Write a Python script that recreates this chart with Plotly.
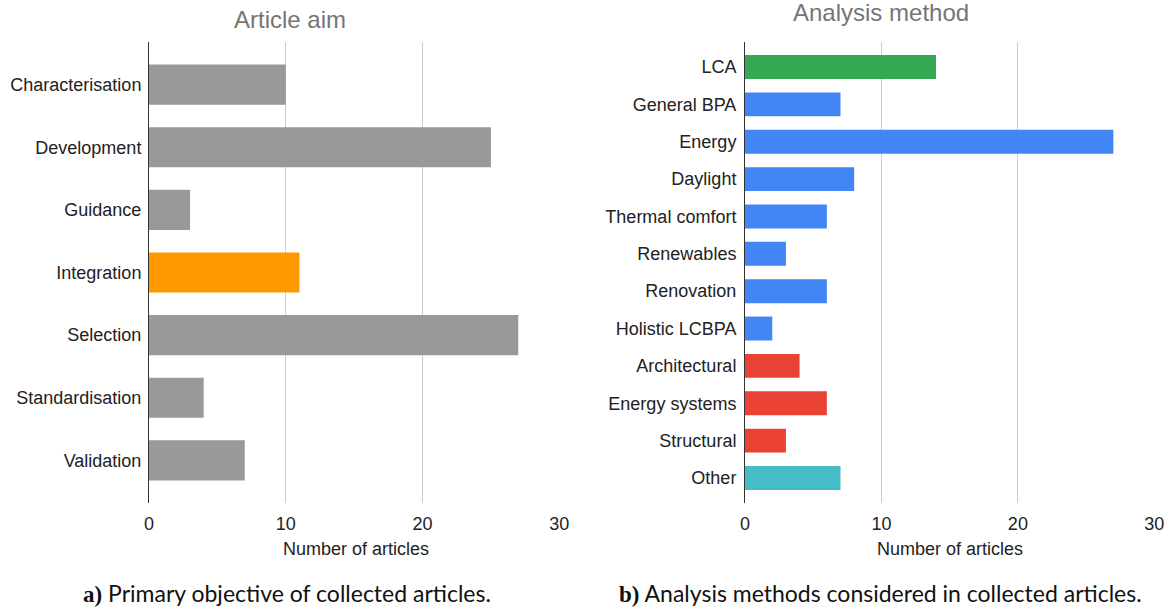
import plotly.graph_objects as go

W, H = 1169, 609

aim_labels = ["Characterisation", "Development", "Guidance", "Integration",
              "Selection", "Standardisation", "Validation"]
aim_values = [10, 25, 3, 11, 27, 4, 7]
aim_colors = ["#999999", "#999999", "#999999", "#ff9900", "#999999", "#999999", "#999999"]

method_labels = ["LCA", "General BPA", "Energy", "Daylight", "Thermal comfort",
                 "Renewables", "Renovation", "Holistic LCBPA", "Architectural",
                 "Energy systems", "Structural", "Other"]
method_values = [14, 7, 27, 8, 6, 3, 6, 2, 4, 6, 3, 7]
method_colors = ["#34a853"] + ["#4285f4"] * 7 + ["#ea4335"] * 3 + ["#46bdc6"]

x_ticks = [0, 10, 20, 30]

def px_x(p):
    return p / W

def px_y(p):
    return 1 - p / H

fig = go.Figure()
fig.add_trace(go.Bar(y=aim_labels, x=aim_values, orientation="h",
                     marker=dict(color=aim_colors, line=dict(width=0)),
                     width=0.64, xaxis="x", yaxis="y", showlegend=False, hoverinfo="skip"))
fig.add_trace(go.Bar(y=method_labels, x=method_values, orientation="h",
                     marker=dict(color=method_colors, line=dict(width=0)),
                     width=0.64, xaxis="x2", yaxis="y2", showlegend=False, hoverinfo="skip"))

FONT = "Liberation Sans, Arial, sans-serif"
tickfont = dict(family=FONT, size=18, color="#222222")
ydom = [px_y(503), px_y(42)]

fig.update_layout(
    width=W, height=H,
    margin=dict(l=0, r=0, t=0, b=0, autoexpand=False),
    plot_bgcolor="white", paper_bgcolor="white",
    xaxis=dict(domain=[px_x(149), px_x(560)], range=[0, 30.05], tickvals=x_ticks,
               showgrid=True, gridcolor="#cccccc", gridwidth=1, zeroline=False,
               tickfont=tickfont, ticklabelstandoff=8, anchor="y", automargin=False),
    yaxis=dict(domain=ydom, range=[6.68, -0.68], type="category",
               categoryorder="array", categoryarray=aim_labels,
               showline=True, linecolor="#333333", linewidth=1,
               showgrid=False, tickfont=tickfont, ticklabelstandoff=3, anchor="x",
               automargin=False),
    xaxis2=dict(domain=[px_x(745), px_x(1155)], range=[0, 30.05], tickvals=x_ticks,
                showgrid=True, gridcolor="#cccccc", gridwidth=1, zeroline=False,
                tickfont=tickfont, ticklabelstandoff=8, anchor="y2", automargin=False),
    yaxis2=dict(domain=ydom, range=[11.67, -0.67], type="category",
                categoryorder="array", categoryarray=method_labels,
                showline=True, linecolor="#333333", linewidth=1,
                showgrid=False, tickfont=tickfont, ticklabelstandoff=4, anchor="x2",
                automargin=False),
)

ann = []
ann.append(dict(text="Article aim", x=px_x(290), y=px_y(20), xref="paper", yref="paper",
                showarrow=False, xanchor="center", yanchor="middle",
                font=dict(family=FONT, size=24, color="#757575")))
ann.append(dict(text="Analysis method", x=px_x(881), y=px_y(13), xref="paper", yref="paper",
                showarrow=False, xanchor="center", yanchor="middle",
                font=dict(family=FONT, size=24, color="#757575")))
for cx in (356, 950):
    ann.append(dict(text="Number of articles", x=px_x(cx), y=px_y(549), xref="paper", yref="paper",
                    showarrow=False, xanchor="center", yanchor="middle",
                    font=dict(family=FONT, size=18, color="#222222")))

cap_font = dict(family="Lato, sans-serif", size=23, color="#111111")
ann.append(dict(text="<span style='font-family:Liberation Serif;font-weight:bold'>a)</span> Primary objective of collected articles.",
                x=px_x(287), y=px_y(593), xref="paper", yref="paper", showarrow=False,
                xanchor="center", yanchor="middle", font=cap_font))
ann.append(dict(text="<span style='font-family:Liberation Serif;font-weight:bold'>b)</span> Analysis methods considered in collected articles.",
                x=px_x(880), y=px_y(593), xref="paper", yref="paper", showarrow=False,
                xanchor="center", yanchor="middle", font=cap_font))
fig.update_layout(annotations=ann)

fig.write_html("out.html", config={"displayModeBar": False},
               post_script="document.body.style.margin='0px';document.body.style.overflow='hidden';")
